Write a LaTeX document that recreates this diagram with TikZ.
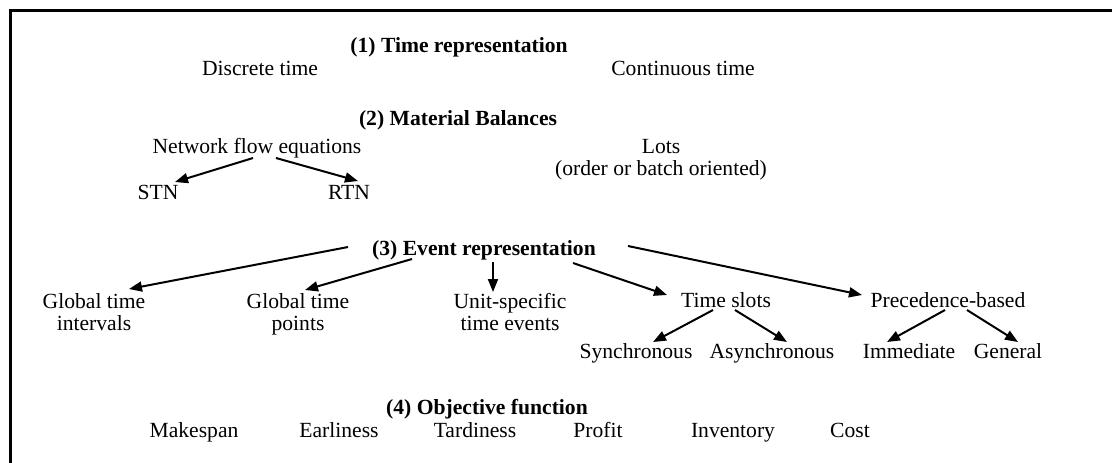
\documentclass[tikz,border=0pt]{standalone}
\usepackage{fontspec}
\setmainfont{Liberation Serif}
\usetikzlibrary{arrows.meta}
\begin{document}
\begin{tikzpicture}[x=0.5pt,y=-0.5pt,
		lbl/.style={anchor=base,inner sep=0pt,font=\fontsize{10.8}{11}\selectfont,align=center},
		ttl/.style={lbl,font=\fontsize{10.8}{11}\selectfont\bfseries},
		arr/.style={-{Triangle[length=6.5pt,width=5pt]},line width=1pt}]
		\clip (0,0) rectangle (1112,462);
		\draw[line width=1.5pt] (10,470) -- (10,10) -- (1120,10);
		% (1) time
		\node[ttl] (t1) at (459,52) {(1) Time representation};
		\node[lbl] (dt) at (260,75) {Discrete time};
		\node[lbl] (ct) at (683,75) {Continuous time};
		% (2) material balances
		\node[ttl] (t2) at (458,125) {(2) Material Balances};
		\node[lbl] (nfe) at (257,153) {Network flow equations};
		\node[lbl] (stn) at (158,199) {STN};
		\node[lbl] (rtn) at (349,199) {RTN};
		\node[lbl] (lots) at (661,175) {Lots\\(order or batch oriented)};
		\draw[arr] ([shift={(-4,5)}]nfe.base) -- ([shift={(17,-17)}]stn.base);
		\draw[arr] ([shift={(19,5)}]nfe.base) -- ([shift={(9,-18)}]rtn.base);
		% (3) events
		\node[ttl] (t3) at (484,255) {(3) Event representation};
		\node[lbl] (gti) at (94,330) {Global time\\intervals};
		\node[lbl] (gtp) at (298,330) {Global time\\points};
		\node[lbl] (use) at (510,330) {Unit-specific\\time events};
		\node[lbl] (ts) at (726,307) {Time slots};
		\node[lbl] (pb) at (948,307) {Precedence-based};
		\node[lbl] (syn) at (636,358) {Synchronous};
		\node[lbl] (asy) at (772,358) {Asynchronous};
		\node[lbl] (imm) at (909,358) {Immediate};
		\node[lbl] (gen) at (1008,358) {General};
		\draw[arr] ([shift={(-136,-8)}]t3.base) -- ([shift={(35,-41)}]gti.base);
		\draw[arr] ([shift={(-72,4)}]t3.base) -- ([shift={(7,-40)}]gtp.base);
		\draw[arr] ([shift={(9,7)}]t3.base) -- ([shift={(-17,-38)}]use.base);
		\draw[arr] ([shift={(89,8)}]t3.base) -- ([shift={(-59,-12)}]ts.base);
		\draw[arr] ([shift={(144,-9)}]t3.base) -- ([shift={(-86,-12)}]pb.base);
		\draw[arr] ([shift={(-13,3)}]ts.base) -- ([shift={(17,-16)}]syn.base);
		\draw[arr] ([shift={(9,3)}]ts.base) -- ([shift={(15,-16)}]asy.base);
		\draw[arr] ([shift={(-3,3)}]pb.base) -- ([shift={(-22,-16)}]imm.base);
		\draw[arr] ([shift={(19,3)}]pb.base) -- ([shift={(10,-16)}]gen.base);
		% (4) objective
		\node[ttl] (t4) at (487,414) {(4) Objective function};
		\foreach \nm/\x/\txt in {mk/194/Makespan,ear/339/Earliness,tar/475/Tardiness,pro/598/Profit,inv/733/Inventory,cst/850/Cost} {
			\node[lbl] (\nm) at (\x,437) {\txt};
		}
	\end{tikzpicture}
\end{document}
